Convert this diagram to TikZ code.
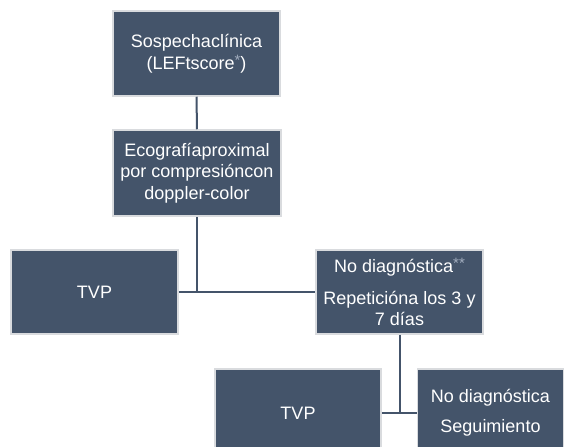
\documentclass[tikz,border=0pt]{standalone}
\usepackage{fontspec}
\setmainfont{Liberation Sans}
\definecolor{slate}{HTML}{44546A}
\definecolor{rim}{HTML}{D9DBDE}
\definecolor{starc}{HTML}{A3AEBF}
% small grey footnote stars
\newcommand{\stars}[1]{\raisebox{4pt}{\fontsize{15}{15}\selectfont\textcolor{starc}{#1}}}
\begin{document}
\begin{tikzpicture}[x=1pt,y=-1pt,
  box/.style={draw=rim, line width=1.5pt, fill=slate, text=white,
    align=center, inner sep=2pt,
    font=\fontsize{18}{21.5}\selectfont},
  link/.style={draw=slate, line width=2pt}]
  \clip (0,0) rectangle (581,447);
  \fill[white] (0,0) rectangle (581,447);

  \node[box, minimum width=167pt, minimum height=85pt] (sosp) at (196.5,53.5)
    {Sospechaclínica\\(LEFtscore\stars{*})};
  \node[box, minimum width=168pt, minimum height=86pt] (eco) at (197,173)
    {Ecografíaproximal\\por compresióncon\\doppler-color};
  \node[box, minimum width=167pt, minimum height=84pt] (tvpa) at (94.5,292)
    {TVP};
  \node[box, minimum width=167pt, minimum height=84pt] (nod) at (399.5,292)
    {No diagnóstica\stars{**}\\[10.5pt]Repeticióna los 3 y\\7 días};
  \node[box, minimum width=166pt, minimum height=88pt] (tvpb) at (298,413)
    {TVP};
  \node[box, minimum width=146pt, minimum height=88pt] (seg) at (490.5,413)
    {No diagnóstica\\[8.5pt]Seguimiento};

  \coordinate (j1) at (eco.south |- tvpa.east);
  \coordinate (j2) at (nod.south |- tvpb.east);

  \draw[link] (sosp.south) -- (eco.north);
  \draw[link] (eco.south) -- (j1);
  \draw[link] (tvpa.east) -- (nod.west);
  \draw[link] (nod.south) -- (j2);
  \draw[link] (tvpb.east) -- (seg.west);
\end{tikzpicture}
\end{document}
